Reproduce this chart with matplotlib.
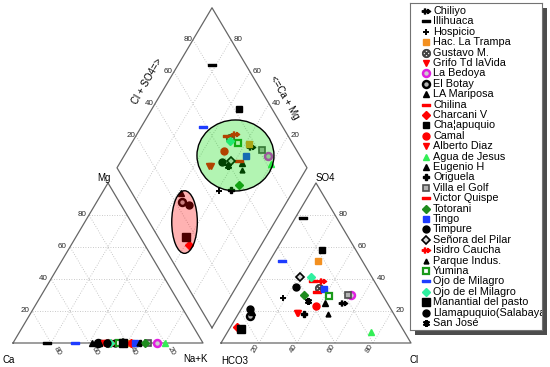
import numpy as np
import matplotlib.pyplot as plt
from matplotlib.patches import Ellipse, Rectangle
from matplotlib.path import Path

plt.rcParams["font.family"] = ["Liberation Sans", "DejaVu Sans"]

# ---------------------------------------------------------------------------
# Data: % of meq
# ---------------------------------------------------------------------------
names = ["Chiliyo", "Illihuaca", "Hospicio", "Hac. La Trampa", "Gustavo M.",
         "Grifo Td laVida", "La Bedoya", "El Botay", "LA Mariposa", "Chilina",
         "Charcani V", "Cha\u00a6apuquio", "Camal", "Alberto Diaz", "Agua de Jesus",
         "Eugenio H", "Origuela", "Villa el Golf", "Victor Quispe", "Totorani",
         "Tingo", "Timpure", "Se\u00f1ora del Pilar", "Isidro Caucha", "Parque Indus.",
         "Yumina", "Ojo de Milagro", "Ojo de el Milagro", "Manantial del pasto",
         "Llamapuquio(Salabaya)", "San Jos\u00e9"]

ca = [36, 82, 39, 38, 50, 51, 24, 55, 36, 52, 38, 54.5, 49, 52, 20, 58.5,
      33, 29, 38, 30.5, 36, 46.5, 42, 48.5, 33.7, 44, 67.6, 49, 42, 50.6, 42]
mg = [0, 0, 0, 0, 0, 0, 0, 0, 0, 0, 0, 0, 0, 0, 0, 0,
      0, 0, 0, 0, 0, 0, 0, 0, 0, 0, 0, 0, 0, 0, 0]
so4 = [24.8, 77.9, 27.9, 51.4, 34.2, 19.0, 30.0, 17.1, 25.2, 38.9, 10.2, 58.1,
       23.1, 18.5, 6.7, 19.4, 18.1, 30.0, 31.7, 30.0, 33.8, 35.2, 41.0, 38.9,
       17.9, 29.4, 51.4, 41.0, 8.6, 21.2, 26.4]
cl = [52.0, 4.4, 18.8, 25.5, 34.5, 31.0, 53.3, 6.6, 42.1, 29.1, 3.3, 24.3,
      38.3, 30.5, 75.6, 6.6, 34.8, 52.0, 34.5, 28.9, 37.5, 21.9, 21.1, 33.8,
      47.2, 42.3, 6.2, 26.7, 6.2, 4.8, 32.8]

# groups circled on the diamond: (Ca+Mg %, Cl+SO4 %)
group_centres = [(41.5, 66.2), (47.5, 18.6)]
group_colors = [(0.0, 0.86, 0.0, 0.3), (1.0, 0.0, 0.0, 0.3)]

# ---------------------------------------------------------------------------
# Marker styles
# ---------------------------------------------------------------------------
ARROW = Path([(-1, -0.18), (-0.5, -0.18), (-0.5, -0.6), (-0.2, -0.6), (-0.2, -0.18),
              (0.3, -0.18), (0.3, -0.5), (1, 0), (0.3, 0.5), (0.3, 0.18),
              (-0.2, 0.18), (-0.2, 0.6), (-0.5, 0.6), (-0.5, 0.18), (-1, 0.18),
              (-1, -0.18)], closed=True)
DASH = Path([(-1, -0.38), (1, -0.38), (1, 0.38), (-1, 0.38), (-1, -0.38)], closed=True)

markers = [ARROW, DASH, "+", "s", r"$\otimes$", "v", "o", "o", "^", DASH, "D", "s",
           "o", "v", "^", "^", "P", "s", DASH, "D", "s", "o", "D", ARROW, "^",
           "s", DASH, "D", "s", "o", (6, 2, 0)]
edge = ["black", "black", "black", "#F39020", "0.25", "red", "#E020E0", "black",
        "black", "red", "red", "black", "red", "red", "#33EE55", "black", "black",
        "0.3", "red", "#1E8C1E", "#1E3CFF", "black", "black", "red", "black",
        "#1A9A1A", "#1E3CFF", "#30F0A0", "black", "black", "black"]
face = list(edge)
face[6], face[7], face[17], face[22], face[25] = "0.8", "0.7", "0.7", "0.85", "white"
sizes = [6, 5.5, 5, 5, 6, 5, 5, 5, 5, 5.5, 4.5, 5, 5, 5, 5, 5, 4.5, 5, 5.5, 4.5,
         5, 5, 4.5, 6, 3.5, 5, 5.5, 4.5, 5.5, 5, 5]
mews = [1, 1, 1.4, 1, 0.6, 1, 1.8, 1.8, 1, 1, 1, 1, 1, 1, 1, 1, 1, 1.2, 1, 1,
        1, 1, 1.2, 1, 1, 1.6, 1, 1, 1, 1, 1.5]

# ---------------------------------------------------------------------------
# Piper geometry (unit side triangles)
# ---------------------------------------------------------------------------
S3 = np.sqrt(3) / 2
GAP = 18 / 190


def cation_xy(ca_, mg_):
    c, m = np.asarray(ca_, float) / 100, np.asarray(mg_, float) / 100
    return (1 - c - m) + m / 2, m * S3


def anion_xy(cl_, so4_):
    c, s = np.asarray(cl_, float) / 100, np.asarray(so4_, float) / 100
    return 1 + GAP + c + s / 2, s * S3


def diamond_xy(camg, so4cl):
    c, s = np.asarray(camg, float) / 100, np.asarray(so4cl, float) / 100
    return 1 + GAP / 2 + (s - c) / 2, S3 * (GAP + c + s)


fig = plt.figure(figsize=(5.5, 3.67), dpi=100)
ax = fig.add_axes([0, 0, 1, 1])
ax.set_xlim(-13 / 190, 537 / 190)
ax.set_ylim(-24 / 184.8, 343 / 184.8)
ax.axis("off")

grid_kw = dict(color="0.72", lw=0.6, ls=(0, (1, 2)), zorder=1)
edge_kw = dict(color="0.4", lw=0.9, zorder=2)
tick_kw = dict(fontsize=5.8, textcoords="offset pixels", color="0.15")
lev = [0.2, 0.4, 0.6, 0.8]


def tri(A, B, C):
    A, B, C = map(np.array, (A, B, C))
    for t in lev:
        for p, q in (((1 - t) * A + t * C, (1 - t) * B + t * C),
                     (t * A + (1 - t) * B, t * A + (1 - t) * C),
                     (t * B + (1 - t) * A, t * B + (1 - t) * C)):
            ax.plot([p[0], q[0]], [p[1], q[1]], **grid_kw)
    P = np.array([A, B, C, A])
    ax.plot(P[:, 0], P[:, 1], **edge_kw)
    return A, B, C


# cation triangle
A, B, C = tri((0, 0), (1, 0), (0.5, S3))
for t in lev:
    p = t * C + (1 - t) * A
    ax.annotate(f"{t * 100:.0f}", p, xytext=(-3, 0), ha="right", va="center", **tick_kw)
    p = t * A + (1 - t) * B
    ax.annotate(f"{t * 100:.0f}", p, xytext=(1, -2), ha="left", va="top",
                rotation=-60, **tick_kw)
ax.annotate("Ca", A, xytext=(-4, -17), ha="center", va="center", fontsize=7,
            textcoords="offset pixels")
ax.annotate("Na+K", B, xytext=(-8, -16), ha="center", va="center", fontsize=7,
            textcoords="offset pixels")
ax.annotate("Mg", C, xytext=(-4.5, 5), ha="center", va="center", fontsize=7,
            textcoords="offset pixels")

# anion triangle
A, B, C = tri((1 + GAP, 0), (2 + GAP, 0), (1.5 + GAP, S3))
for t in lev:
    p = t * C + (1 - t) * B
    ax.annotate(f"{t * 100:.0f}", p, xytext=(4, 0), ha="left", va="center", **tick_kw)
    p = t * B + (1 - t) * A
    ax.annotate(f"{t * 100:.0f}", p, xytext=(2, 0), ha="right", va="top",
                rotation=60, **tick_kw)
ax.annotate("HCO3", A, xytext=(14, -18), ha="center", va="center", fontsize=7,
            textcoords="offset pixels")
ax.annotate("Cl", B, xytext=(3, -17), ha="center", va="center", fontsize=7,
            textcoords="offset pixels")
ax.annotate("SO4", C, xytext=(9, 5), ha="center", va="center", fontsize=7,
            textcoords="offset pixels")

# diamond
bot, left, top, right = (np.array(diamond_xy(c, s)) for c, s in
                         ((0, 0), (100, 0), (100, 100), (0, 100)))
for t in lev:
    p, q = bot + t * (left - bot), right + t * (top - right)
    ax.plot([p[0], q[0]], [p[1], q[1]], **grid_kw)
    p, q = bot + t * (right - bot), left + t * (top - left)
    ax.plot([p[0], q[0]], [p[1], q[1]], **grid_kw)
    ax.annotate(f"{t * 100:.0f}", q, xytext=(-1, 0), ha="right", va="center", **tick_kw)
    q = top + (1 - t) * (right - top)
    ax.annotate(f"{t * 100:.0f}", q, xytext=(2.5, 0), ha="left", va="center", **tick_kw)
P = np.array([bot, left, top, right, bot])
ax.plot(P[:, 0], P[:, 1], **edge_kw)
ax.annotate("Cl + SO4=>", left + 0.54 * (top - left), xytext=(-21.5, 0),
            ha="center", va="center", rotation=60, fontsize=7,
            textcoords="offset pixels")
ax.annotate("<=Ca + Mg", top + 0.5625 * (right - top), xytext=(19.5, 0),
            ha="center", va="center", rotation=-60, fontsize=7,
            textcoords="offset pixels")

# ---------------------------------------------------------------------------
# Samples
# ---------------------------------------------------------------------------
cx, cy = cation_xy(ca, mg)
ax_, ay = anion_xy(cl, so4)
dx, dy = diamond_xy(np.add(ca, mg), np.add(so4, cl))
for i in range(len(names)):
    st = dict(marker=markers[i], ms=sizes[i], mec=edge[i], mfc=face[i],
              mew=mews[i], ls="none", zorder=3)
    ax.plot(cx[i], cy[i], **st)
    ax.plot(ax_[i], ay[i], **st)
    ax.plot(dx[i], dy[i], **st)

ell_w = [77 / 190, 25.6 / 190]
ell_h = [71 / 184.8, 62.6 / 184.8]
for (gc, gs), fc, w, h in zip(group_centres, group_colors, ell_w, ell_h):
    xy = diamond_xy(gc, gs)
    ax.add_patch(Ellipse(xy, w, h, facecolor=fc, edgecolor="black", lw=1, zorder=4))

# ---------------------------------------------------------------------------
# Legend box with drop shadow
# ---------------------------------------------------------------------------
lx, ly, lw_, lh = 410 / 550, 1 - 330 / 367, 132 / 550, 327 / 367
fig.add_artist(Rectangle((lx + 5 / 550, ly - 5 / 367), lw_, lh,
                         transform=fig.transFigure, facecolor="0.3",
                         edgecolor="none", zorder=1))
lg = fig.add_axes([lx, ly, lw_, lh], zorder=2)
lg.set_xlim(0, 132)
lg.set_ylim(30.67, -0.77)
lg.set_xticks([])
lg.set_yticks([])
for sp in lg.spines.values():
    sp.set_color("0.45")
    sp.set_linewidth(0.8)
for i, name in enumerate(names):
    lg.plot(16, i, marker=markers[i], ms=sizes[i], mec=edge[i], mfc=face[i],
            mew=mews[i], ls="none")
    lg.text(23, i, name, fontsize=7.8, va="center", ha="left", clip_on=True)

fig.savefig("out.png", dpi=100)
